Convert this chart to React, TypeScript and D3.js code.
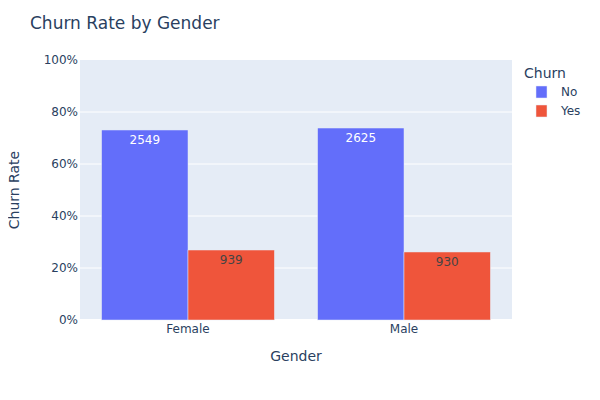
import React, { useEffect, useRef } from 'react';
import * as d3 from 'd3';

const genders = ['Female', 'Male'];
const churnKeys = ['No', 'Yes'];
const countsNo = [2549, 2625];
const countsYes = [939, 930];
const yTicks = [0, 0.2, 0.4, 0.6, 0.8, 1];

const colors: Record<string, string> = { No: '#636efa', Yes: '#EF553B' };
const FONT = '"DejaVu Sans", verdana, arial, sans-serif';
const INK = '#2a3f5f';

const App: React.FC = () => {
    const svgRef = useRef<SVGSVGElement>(null);

    useEffect(() => {
        if (!svgRef.current) return;
        const svg = d3.select(svgRef.current);
        svg.selectAll('*').remove();

        const margin = { top: 60, right: 88, bottom: 80, left: 80 };
        const w = 600, h = 400;
        const innerW = w - margin.left - margin.right;
        const innerH = h - margin.top - margin.bottom;

        const rows = genders.map((g, i) => {
            const total = countsNo[i] + countsYes[i];
            return [
                { gender: g, key: 'No', count: countsNo[i], rate: countsNo[i] / total },
                { gender: g, key: 'Yes', count: countsYes[i], rate: countsYes[i] / total },
            ];
        });

        const x0 = d3.scaleBand().domain(genders).range([0, innerW]).paddingInner(0.2).paddingOuter(0.1);
        const x1 = d3.scaleBand().domain(churnKeys).range([0, x0.bandwidth()]);
        const y = d3.scaleLinear().domain([0, 1]).range([innerH, 0]);

        svg.append('rect').attr('width', w).attr('height', h).attr('fill', '#fff');

        const g = svg.append('g').attr('transform', `translate(${margin.left},${margin.top})`);
        g.append('rect').attr('width', innerW).attr('height', innerH).attr('fill', '#E5ECF6');

        // grid
        g.selectAll('line.grid')
            .data(yTicks.filter(t => t > 0 && t < 1))
            .enter()
            .append('line')
            .attr('x1', 0).attr('x2', innerW)
            .attr('y1', d => y(d)).attr('y2', d => y(d))
            .attr('stroke', '#fff').attr('stroke-width', 1);

        g.append('line')
            .attr('x1', 0).attr('x2', innerW)
            .attr('y1', y(0)).attr('y2', y(0))
            .attr('stroke', '#fff').attr('stroke-width', 2);

        // y tick labels
        g.selectAll('text.ytick')
            .data(yTicks)
            .enter()
            .append('text')
            .attr('x', -2)
            .attr('y', d => y(d))
            .attr('dy', '0.35em')
            .attr('text-anchor', 'end')
            .style('font-family', FONT).style('font-size', '12px').style('fill', INK)
            .text(d => d3.format('.0%')(d));

        // x tick labels
        g.selectAll('text.xtick')
            .data(genders)
            .enter()
            .append('text')
            .attr('x', d => (x0(d) ?? 0) + x0.bandwidth() / 2)
            .attr('y', innerH + 13)
            .attr('text-anchor', 'middle')
            .style('font-family', FONT).style('font-size', '12px').style('fill', INK)
            .text(d => d);

        // bars
        const groups = g.selectAll('g.grp')
            .data(rows)
            .enter()
            .append('g')
            .attr('transform', d => `translate(${x0(d[0].gender)},0)`);

        groups.selectAll('rect')
            .data(d => d)
            .enter()
            .append('rect')
            .attr('x', d => x1(d.key) ?? 0)
            .attr('width', x1.bandwidth())
            .attr('y', d => y(d.rate))
            .attr('height', d => innerH - y(d.rate))
            .attr('fill', d => colors[d.key])
            .attr('stroke', '#E5ECF6')
            .attr('stroke-width', 0.5);

        groups.selectAll('text')
            .data(d => d)
            .enter()
            .append('text')
            .attr('x', d => (x1(d.key) ?? 0) + x1.bandwidth() / 2)
            .attr('y', d => y(d.rate) + 14)
            .attr('text-anchor', 'middle')
            .style('font-family', FONT).style('font-size', '12px')
            .style('fill', d => (d.key === 'No' ? '#fff' : '#444'))
            .text(d => d.count);

        // titles
        svg.append('text')
            .attr('x', 30).attr('y', 29)
            .style('font-family', FONT).style('font-size', '17px').style('fill', INK)
            .text('Churn Rate by Gender');

        svg.append('text')
            .attr('x', margin.left + innerW / 2).attr('y', 361)
            .attr('text-anchor', 'middle')
            .style('font-family', FONT).style('font-size', '14px').style('fill', INK)
            .text('Gender');

        svg.append('text')
            .attr('transform', `translate(19,${margin.top + innerH / 2}) rotate(-90)`)
            .attr('text-anchor', 'middle')
            .style('font-family', FONT).style('font-size', '14px').style('fill', INK)
            .text('Churn Rate');

        // legend
        const lg = svg.append('g').attr('transform', 'translate(524,60)');
        lg.append('text')
            .attr('x', 0).attr('y', 18)
            .style('font-family', FONT).style('font-size', '14px').style('fill', INK)
            .text('Churn');
        const items = lg.selectAll('g.item')
            .data(churnKeys)
            .enter()
            .append('g')
            .attr('transform', (_d, i) => `translate(0,${32 + i * 19})`);
        items.append('rect')
            .attr('x', 12).attr('y', -6).attr('width', 11).attr('height', 12)
            .attr('fill', d => colors[d])
            .attr('stroke', '#E5ECF6').attr('stroke-width', 0.5);
        items.append('text')
            .attr('x', 37).attr('y', 0).attr('dy', '0.35em')
            .style('font-family', FONT).style('font-size', '12px').style('fill', INK)
            .text(d => d);
    }, []);

    return <svg ref={svgRef} width={600} height={400} style={{ display: 'block', margin: -8 }} />;
};

export default App;
